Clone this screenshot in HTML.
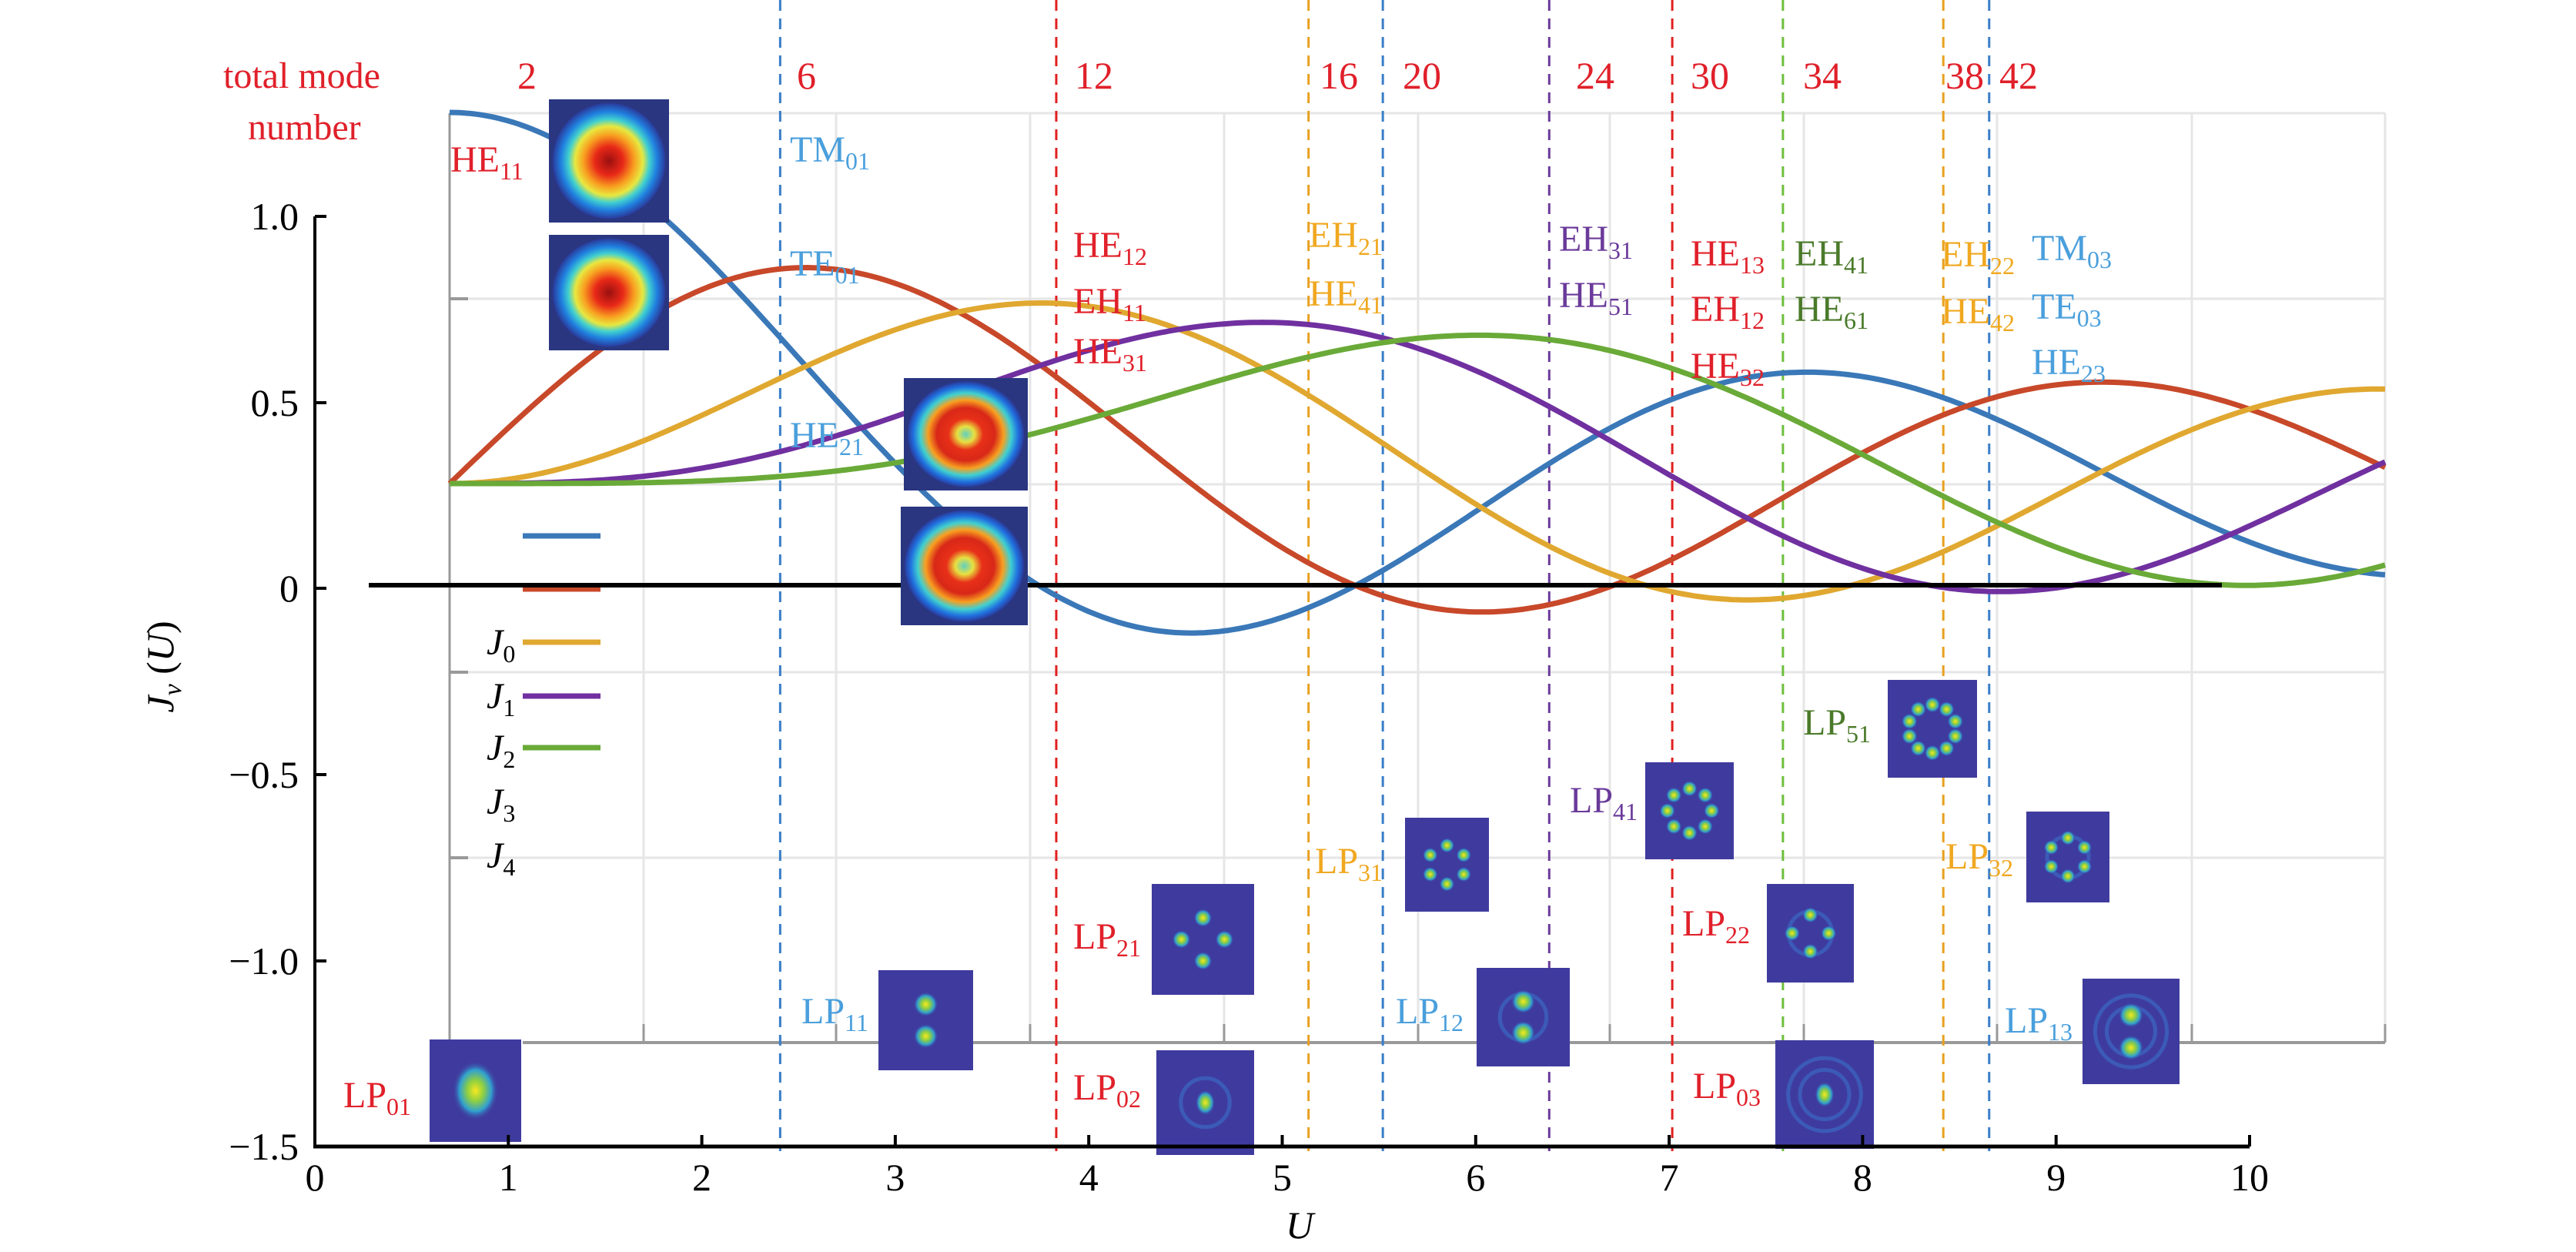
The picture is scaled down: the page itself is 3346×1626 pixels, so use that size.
<!DOCTYPE html>
<html><head><meta charset="utf-8"><style>
html,body{margin:0;padding:0;background:#fff}
svg{display:block}
svg text{font-family:"Liberation Serif","Times New Roman",serif}
</style></head><body>
<svg id="s" width="3346" height="1626" viewBox="0 0 3346 1626" xmlns="http://www.w3.org/2000/svg" font-family="Liberation Serif, serif">
<defs>
<radialGradient id="hot" cx="50%" cy="50%" r="50%">
<stop offset="0" stop-color="#9a1010"/><stop offset="0.25" stop-color="#e82818"/><stop offset="0.45" stop-color="#f8a020"/><stop offset="0.6" stop-color="#e8e840"/><stop offset="0.72" stop-color="#40d0d0"/><stop offset="0.85" stop-color="#2080e0"/><stop offset="1" stop-color="#2a3a9a"/></radialGradient>
<radialGradient id="donut" cx="50%" cy="50%" r="50%">
<stop offset="0" stop-color="#60d0c0"/><stop offset="0.15" stop-color="#e8e040"/><stop offset="0.3" stop-color="#e83018"/><stop offset="0.5" stop-color="#d82818"/><stop offset="0.65" stop-color="#f8a020"/><stop offset="0.78" stop-color="#40d0d0"/><stop offset="0.9" stop-color="#2070e0"/><stop offset="1" stop-color="#2a3a9a"/></radialGradient>
<radialGradient id="spot" cx="50%" cy="50%" r="50%">
<stop offset="0" stop-color="#f8e820"/><stop offset="0.35" stop-color="#90d040"/><stop offset="0.7" stop-color="#30a0d0"/><stop offset="1" stop-color="#3f3b9e" stop-opacity="0"/></radialGradient>
</defs>
<g id="grid" stroke="#e6e6e6" stroke-width="3" fill="none"></g>
<g id="inner"></g>
<g id="dash"></g>
<g id="curves" fill="none" stroke-width="7" stroke-linejoin="round"></g>
<line x1="479" y1="760" x2="2886" y2="760" stroke="#000" stroke-width="6"/>
<g id="imgs"></g>
<g id="axes" font-family="Liberation Serif, serif"></g>
<g id="txt" font-family="Liberation Serif, serif"></g>
</svg>
<script>
const NS="http://www.w3.org/2000/svg";
function el(p,t,a,txt){const e=document.createElementNS(NS,t);for(const k in a)e.setAttribute(k,a[k]);if(t==='text')e.setAttribute('font-family','Liberation Serif, serif');if(txt!==undefined)e.textContent=txt;document.getElementById(p).appendChild(e);return e;}
const gx=[584,836,1086,1338,1590,1842,2091,2343,2594,2847,3098];
gx.forEach(x=>el('grid','line',{x1:x,y1:147,x2:x,y2:1354}));
[147,388,629,873,1114].forEach(y=>el('grid','line',{x1:584,y1:y,x2:3098,y2:y}));
el('inner','line',{x1:584,y1:147,x2:584,y2:1354,stroke:'#999','stroke-width':3});
el('inner','line',{x1:679,y1:1354,x2:3098,y2:1354,stroke:'#999','stroke-width':4});
gx.slice(1).forEach(x=>el('inner','line',{x1:x,y1:1354,x2:x,y2:1330,stroke:'#999','stroke-width':3}));
[388,873,1114].forEach(y=>el('inner','line',{x1:584,y1:y,x2:608,y2:y,stroke:'#999','stroke-width':4}));
const dz=[[2.405,'#3a7ec8'],[3.832,'#e02020'],[5.136,'#e8a020'],[5.520,'#3a7ec8'],[6.380,'#6a3a9a'],[7.016,'#e02020'],[7.588,'#6cbf3c'],[8.417,'#e8a020'],[8.654,'#3a7ec8']];
dz.forEach(([u,c])=>{const x=409+251.3*u;el('dash','line',{x1:x,y1:0,x2:x,y2:1495,stroke:c,'stroke-width':3,'stroke-dasharray':'14 10'});});
function J(n,x){let s=0,N=400;for(let i=0;i<=N;i++){const t=Math.PI*i/N;const w=(i==0||i==N)?0.5:1;s+=w*Math.cos(n*t-x*Math.sin(t));}return s/N;}
const cols=['#3a78b8','#c8482a','#e0a830','#7030a0','#6aaa38'];
for(let n=0;n<5;n++){let d='';for(let i=0;i<=400;i++){const u=10*i/400;const x=584+251.4*u;const y=628-482*J(n,u);d+=(i?'L':'M')+x.toFixed(1)+' '+y.toFixed(1);}el('curves','path',{d:d,stroke:cols[n]});}
[[696,0],[765,1],[834,2],[904,3],[971,4]].forEach(([y,i])=>el('curves','line',{x1:679,y1:y,x2:780,y2:y,stroke:cols[i],'stroke-width':7}));
el('axes','line',{x1:409,y1:281,x2:409,y2:1491,stroke:'#000','stroke-width':4});
el('axes','line',{x1:407,y1:1489,x2:2922,y2:1489,stroke:'#000','stroke-width':5});
const yt=[[281,'1.0'],[523,'0.5'],[764,'0'],[1006,'\u22120.5'],[1248,'\u22121.0'],[1489,'\u22121.5']];
yt.forEach(([y,l])=>{el('axes','line',{x1:409,y1:y,x2:424,y2:y,stroke:'#000','stroke-width':4});el('axes','text',{x:388,y:y+17,'font-size':50,'text-anchor':'end'},l);});
for(let k=0;k<=10;k++){const x=409+251.3*k;if(k>0)el('axes','line',{x1:x,y1:1489,x2:x,y2:1474,stroke:'#000','stroke-width':4});el('axes','text',{x:x,y:1546,'font-size':50,'text-anchor':'middle'},String(k));}
el('axes','text',{x:1688,y:1608,'font-size':50,'font-style':'italic','text-anchor':'middle'},'U');
const yl=el('axes','text',{x:0,y:0,'font-size':50,'text-anchor':'middle',transform:'translate(225,866) rotate(-90)'});
yl.innerHTML='<tspan font-style="italic">J</tspan><tspan font-style="italic" font-size="34" dy="10">ν</tspan><tspan dy="-10"> (</tspan><tspan font-style="italic">U</tspan><tspan>)</tspan>';
[['0',850],['1',920],['2',987],['3',1057],['4',1127]].forEach(([s,y])=>{const t=el('txt','text',{x:632,y:y,'font-size':48});t.innerHTML='<tspan font-style="italic">J</tspan><tspan font-size="32" dy="10">'+s+'</tspan>';});
const R='#e0202a',B='#4a9fdc',Y='#f0a820',P='#6a3a9a',G='#4a7a2a';
el('txt','text',{x:290,y:114,'font-size':48,fill:R},'total mode');
el('txt','text',{x:322,y:181,'font-size':48,fill:R},'number');
[['2',672],['6',1035],['12',1396],['16',1714],['20',1822],['24',2047],['30',2196],['34',2342],['38',2527],['42',2597]].forEach(([s,x])=>el('txt','text',{x:x,y:115,'font-size':50,fill:R},s));
function lab(x,y,m,sub,c,fs){fs=fs||48;const t=el('txt','text',{x:x,y:y,'font-size':fs,fill:c});t.innerHTML=m+'<tspan font-size="'+Math.round(fs*0.66)+'" dy="10">'+sub+'</tspan>';}
lab(585,223,'HE','11',R);lab(1026,210,'TM','01',B);lab(1026,358,'TE','01',B);lab(1026,581,'HE','21',B);
lab(1394,334,'HE','12',R);lab(1394,407,'EH','11',R);lab(1394,472,'HE','31',R);
lab(1700,321,'EH','21',Y);lab(1700,397,'HE','41',Y);
lab(2025,326,'EH','31',P);lab(2025,399,'HE','51',P);
lab(2196,345,'HE','13',R);lab(2196,417,'EH','12',R);lab(2196,491,'HE','32',R);
lab(2331,345,'EH','41',G);lab(2331,417,'HE','61',G);
lab(2521,346,'EH','22',Y);lab(2521,420,'HE','42',Y);
lab(2639,338,'TM','03',B);lab(2639,414,'TE','03',B);lab(2639,486,'HE','23',B);
lab(446,1438,'LP','01',R);lab(1041,1329,'LP','11',B);lab(1394,1232,'LP','21',R);lab(1394,1428,'LP','02',R);
lab(1708,1134,'LP','31',Y);lab(2039,1055,'LP','41',P);lab(2342,954,'LP','51',G);lab(2527,1128,'LP','32',Y);
lab(2185,1215,'LP','22',R);lab(1813,1329,'LP','12',B);lab(2199,1426,'LP','03',R);lab(2604,1341,'LP','13',B);
function box(x0,y0,x1,y1,c){el('imgs','rect',{x:x0,y:y0,width:x1-x0,height:y1-y0,fill:c});}
function hot(x0,y0,x1,y1,g){box(x0,y0,x1,y1,'#2a3680');const cx=(x0+x1)/2,cy=(y0+y1)/2;el('imgs','ellipse',{cx:cx,cy:cy,rx:(x1-x0)*0.47,ry:(y1-y0)*0.47,fill:'url(#'+g+')'});}
hot(713,129,869,289,'hot');hot(713,305,869,455,'hot');hot(1174,491,1335,637,'donut');hot(1170,658,1335,812,'donut');
function lp(x0,y0,x1,y1,l,m){box(x0,y0,x1,y1,'#3f3b9e');const cx=(x0+x1)/2,cy=(y0+y1)/2,w=x1-x0;
 for(let k=1;k<m;k++){el('imgs','circle',{cx:cx,cy:cy,r:w*(0.13+0.12*k),fill:'none',stroke:'#3a80d8','stroke-width':5,'stroke-opacity':0.45});}
 if(l==0){const r=m==1?w*0.25:w*0.1;el('imgs','ellipse',{cx:cx,cy:cy,rx:r,ry:r*1.3,fill:'url(#spot)'});return;}
 const n=2*l,rr=l==1?w*0.14:w*(0.17+0.02*l),sr=l==1?w*0.13:w*0.09;
 for(let i=0;i<n;i++){const a=Math.PI/2+2*Math.PI*i/n;el('imgs','circle',{cx:cx+rr*Math.cos(a),cy:cy+rr*Math.sin(a)*(l==1?1.2:1),r:sr,fill:'url(#spot)'});}}
lp(558,1350,677,1483,0,1);lp(1141,1260,1264,1390,1,1);lp(1496,1148,1629,1292,2,1);lp(1502,1364,1629,1500,0,2);
lp(1825,1062,1934,1184,3,1);lp(2137,990,2252,1116,4,1);lp(2452,883,2568,1010,5,1);lp(2632,1054,2740,1172,3,2);
lp(2295,1148,2408,1276,2,2);lp(1918,1257,2039,1385,1,2);lp(2306,1351,2434,1492,0,3);lp(2705,1271,2831,1408,1,3);
</script>
</body></html>
